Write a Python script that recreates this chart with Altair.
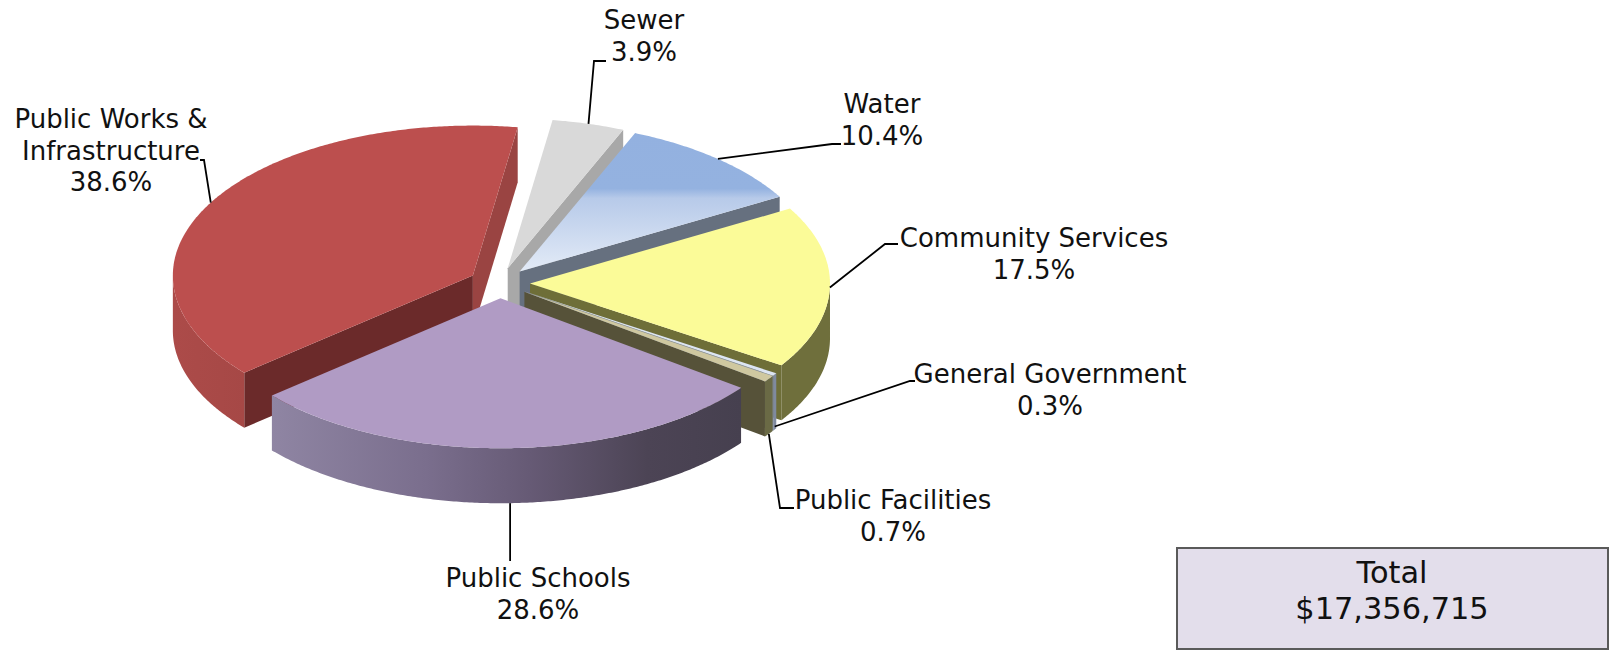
import math
import altair as alt
import pandas as pd

# Budget shares, clockwise from the first slice after the 12 o'clock seam
CATEGORIES = ["Sewer", "Water", "Community Services", "General Government",
              "Public Facilities", "Public Schools", "Public Works & Infrastructure"]
SHARES = [3.9, 10.4, 17.5, 0.3, 0.7, 28.6, 38.6]
TOTAL_LABEL = "$17,356,715"

# Pie geometry (pixels; the identity projection maps these straight to the page)
CX, CY = 499.5, 283.0
RX, RY = 300.0, 150.0
EXPLODE = 30.5
DEPTH = 55.0
START_ANGLE = 8.6


def linear(stops, x2=1, y2=0):
    return alt.LinearGradient(
        gradient="linear", x1=0, y1=0, x2=x2, y2=y2,
        stops=[alt.GradientStop(offset=o, color=c) for o, c in stops],
    )


# Face colours per slice
TOP = {
    "Sewer": "#D9D9D9",
    "Water": linear([(0, "#93B1E0"), (0.40, "#94B2E0"), (0.47, "#B7CAE9"), (1, "#E3EBF7")], x2=0, y2=1),
    "Community Services": "#FBFB98",
    "General Government": "#DCE5F3",
    "Public Facilities": "#CFC8A0",
    "Public Schools": "#B09BC4",
    "Public Works & Infrastructure": "#BC4F4E",
}
END_CUT = {
    "Sewer": "#A8A8A8",
    "Water": "#66707F",
    "Community Services": "#6E6E38",
    "General Government": "#7F8A9F",
    "Public Facilities": "#565239",
    "Public Schools": "#5A5068",
    "Public Works & Infrastructure": "#9A4442",
}
START_CUT = {"Public Works & Infrastructure": "#6B2A2A"}
WALL = {
    "Community Services": "#6F6F3C",
    "General Government": "#7F8A9F",
    "Public Facilities": "#6A6A45",
    "Public Schools": linear([(0, "#8F85A3"), (0.33, "#7A6E8D"), (0.55, "#665A75"), (0.8, "#4C4455"), (1, "#46404F")]),
    "Public Works & Infrastructure": linear([(0, "#AC4B49"), (1, "#A64846")]),
}

PROJECTION = dict(type="identity", scale=1, translate=[0, 0])


def rim(apex, angle, drop=0.0):
    rad = math.radians(angle)
    return [apex[0] + RX * math.sin(rad), apex[1] - RY * math.cos(rad) + drop]


def arc(apex, a0, a1, drop=0.0):
    n = max(2, int(abs(a1 - a0) * 2))
    return [rim(apex, a0 + (a1 - a0) * i / n, drop) for i in range(n + 1)]


def shape(points, **mark):
    ring = [list(p) for p in points] + [list(points[0])]
    feature = {"type": "Feature", "properties": {},
               "geometry": {"type": "Polygon", "coordinates": [ring]}}
    return (alt.Chart(alt.Data(values=[feature]))
            .mark_geoshape(**mark).project(**PROJECTION))


def polyline(points):
    feature = {"type": "Feature", "properties": {},
               "geometry": {"type": "LineString", "coordinates": [list(p) for p in points]}}
    return (alt.Chart(alt.Data(values=[feature]))
            .mark_geoshape(filled=False, stroke="#000000", strokeWidth=1.8)
            .project(**PROJECTION))


def extruded_cut(apex, angle, fill):
    edge = rim(apex, angle)
    return shape([apex, edge, [edge[0], edge[1] + DEPTH], [apex[0], apex[1] + DEPTH]], fill=fill)


# Cumulative slice angles derived from the shares
slices = {}
angle = START_ANGLE
for name, share in zip(CATEGORIES, SHARES):
    sweep = share * 3.6
    mid = math.radians(angle + sweep / 2)
    apex = [CX + EXPLODE * math.sin(mid), CY - EXPLODE * 0.5 * math.cos(mid)]
    slices[name] = dict(a0=angle, a1=angle + sweep, apex=apex, mid=angle + sweep / 2)
    angle += sweep

layers = []

# Slices are painted back to front
PAINT_ORDER = ["Public Works & Infrastructure", "Sewer", "Water", "Community Services",
               "General Government", "Public Facilities", "Public Schools"]
for name in PAINT_ORDER:
    s = slices[name]
    apex, a0, a1 = s["apex"], s["a0"], s["a1"]
    if name in START_CUT:
        layers.append(extruded_cut(apex, a0, START_CUT[name]))
    if name != "Public Schools":
        layers.append(extruded_cut(apex, a1, END_CUT[name]))
    if name in WALL:
        w0, w1 = max(a0, 90.0), min(a1, 270.0)
        if w1 > w0:
            layers.append(shape(arc(apex, w0, w1) + arc(apex, w1, w0, DEPTH), fill=WALL[name]))
    layers.append(shape([apex] + arc(apex, a0, a1), fill=TOP[name]))

# Leader lines start on the slice rim and run out to fixed elbows beside the labels
LEADER_ELBOWS = {
    "Sewer": [[594, 61], [606, 61]],
    "Water": [[832, 144], [841, 144]],
    "Community Services": [[885, 244], [898, 244]],
    "General Government": [[910, 381], [915, 381]],
    "Public Facilities": [[780, 508], [794, 508]],
    "Public Works & Infrastructure": [[204, 160], [200, 160]],
}
LEADER_DROP = {"General Government": 52.0, "Public Facilities": 55.0, "Public Schools": 55.0}
for name, elbow in LEADER_ELBOWS.items():
    s = slices[name]
    start = rim(s["apex"], s["mid"], LEADER_DROP.get(name, 0.0))
    layers.append(polyline([start] + elbow))

# The Public Schools leader drops straight down from the front rim
schools_start = rim(slices["Public Schools"]["apex"], slices["Public Schools"]["mid"], LEADER_DROP["Public Schools"])
layers.append(polyline([schools_start, [schools_start[0], 561]]))

# Label rows: the first lines come from the category names, the last from the shares
LABEL_LINES = {
    "Sewer": ["Sewer"],
    "Water": ["Water"],
    "Community Services": ["Community Services"],
    "General Government": ["General Government"],
    "Public Facilities": ["Public Facilities"],
    "Public Schools": ["Public Schools"],
    "Public Works & Infrastructure": ["Public Works &", "Infrastructure"],
}
LABEL_CENTER_X = {"Sewer": 644, "Water": 882, "Community Services": 1034, "General Government": 1050,
                  "Public Facilities": 893, "Public Schools": 538, "Public Works & Infrastructure": 111}
LABEL_TOP_Y = {"Sewer": 21, "Water": 105, "Community Services": 239, "General Government": 375,
               "Public Facilities": 501, "Public Schools": 579, "Public Works & Infrastructure": 120}
LINE_STEP = 31.5

rows = []
for name, share in zip(CATEGORIES, SHARES):
    lines = LABEL_LINES[name] + [f"{share:.1f}%"]
    for i, line in enumerate(lines):
        rows.append({"text": line, "lon": LABEL_CENTER_X[name], "lat": LABEL_TOP_Y[name] + i * LINE_STEP})

labels = (alt.Chart(pd.DataFrame(rows))
          .mark_text(font="DejaVu Sans", fontSize=26, color="#111111", align="center", baseline="middle")
          .encode(longitude="lon:Q", latitude="lat:Q", text="text:N")
          .project(**PROJECTION))

# Total box in the lower right corner
box = shape([[1177, 548], [1608, 548], [1608, 649], [1177, 649]],
            fill="#E3DEEB", stroke="#5A5A5A", strokeWidth=2)
total_rows = pd.DataFrame({"text": ["Total", TOTAL_LABEL], "lon": [1392, 1392], "lat": [574, 610]})
total = (alt.Chart(total_rows)
         .mark_text(font="DejaVu Sans", fontSize=30.4, color="#111111", align="center", baseline="middle")
         .encode(longitude="lon:Q", latitude="lat:Q", text="text:N")
         .project(**PROJECTION))

chart = (alt.layer(*layers, labels, box, total)
         .properties(width=1610, height=650, padding=0, autosize=alt.AutoSizeParams(type="none"))
         .configure_view(stroke=None))

chart.save("out.html", embed_options={"renderer": "svg", "actions": False})
